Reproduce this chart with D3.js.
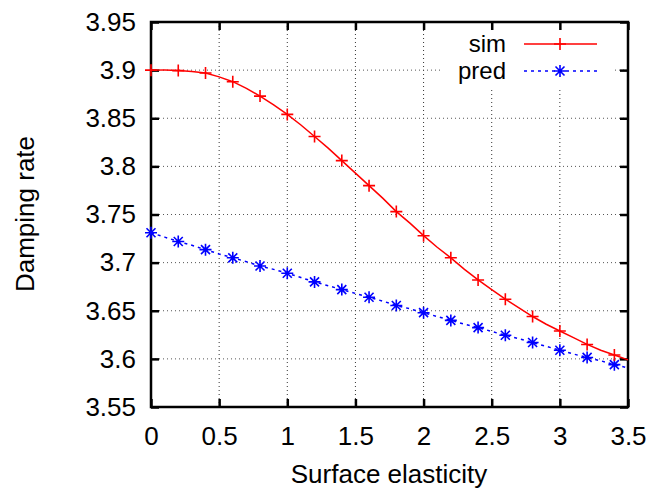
<!DOCTYPE html>
<html>
<head>
<meta charset="utf-8">
<script src="https://cdn.jsdelivr.net/npm/d3@7"></script>
<style>
  html, body { margin: 0; padding: 0; background: #fff; }
  svg { display: block; font-family: "Liberation Sans", Arial, Helvetica, sans-serif; }
</style>
</head>
<body>
<svg id="chart" width="654" height="491"></svg>
<script>
// Surface elasticity samples (step 0.1); markers are drawn on every other sample
const elasticity = [0, 0.1, 0.2, 0.3, 0.4, 0.5, 0.6, 0.7, 0.8, 0.9, 1.0, 1.1, 1.2, 1.3, 1.4, 1.5, 1.6, 1.7,
  1.8, 1.9, 2.0, 2.1, 2.2, 2.3, 2.4, 2.5, 2.6, 2.7, 2.8, 2.9, 3.0, 3.1, 3.2, 3.3, 3.4, 3.5];

// Damping rate from simulation
const simRate = [3.9000, 3.9001, 3.8995, 3.8985, 3.8970, 3.8930, 3.8880, 3.8810, 3.8730, 3.8640,
  3.8540, 3.8430, 3.8310, 3.8190, 3.8060, 3.7930, 3.7800, 3.7670, 3.7530, 3.7410,
  3.7280, 3.7160, 3.7050, 3.6930, 3.6820, 3.6720, 3.6620, 3.6530, 3.6440, 3.6360,
  3.6290, 3.6220, 3.6150, 3.6090, 3.6040, 3.5990];

// Damping rate from prediction
const predRate = [3.7310, 3.7265, 3.7220, 3.7180, 3.7135, 3.7090, 3.7050, 3.7010, 3.6965, 3.6930,
  3.6890, 3.6845, 3.6800, 3.6760, 3.6720, 3.6680, 3.6640, 3.6600, 3.6555, 3.6520,
  3.6480, 3.6440, 3.6400, 3.6360, 3.6325, 3.6285, 3.6245, 3.6210, 3.6170, 3.6130,
  3.6090, 3.6050, 3.6015, 3.5980, 3.5940, 3.5905];

const xTicks = [0, 0.5, 1, 1.5, 2, 2.5, 3, 3.5];
const yTicks = [3.55, 3.6, 3.65, 3.7, 3.75, 3.8, 3.85, 3.9, 3.95];
const seriesNames = ["sim", "pred"];

const W = 654, H = 491;
const margin = { left: 151, right: 26, top: 22, bottom: 84 };
const x0 = margin.left, x1 = W - margin.right;
const y0 = H - margin.bottom, y1 = margin.top;

const x = d3.scaleLinear().domain([0, 3.5]).range([x0, x1]);
const y = d3.scaleLinear().domain([3.55, 3.95]).range([y0, y1]);

const svg = d3.select("#chart");
const fontSize = 26;
const keyFontSize = 24;

// Grid (dotted)
const grid = svg.append("g");
grid.selectAll("line.gx").data(xTicks.filter(t => t > 0 && t < 3.5)).join("line")
  .attr("x1", d => x(d)).attr("x2", d => x(d)).attr("y1", y0).attr("y2", y1)
  .attr("stroke", "#333").attr("stroke-width", 1).attr("stroke-dasharray", "1,3");
grid.selectAll("line.gy").data(yTicks.filter(t => t > 3.55 && t < 3.95)).join("line")
  .attr("x1", x0).attr("x2", x1).attr("y1", d => y(d)).attr("y2", d => y(d))
  .attr("stroke", "#555").attr("stroke-width", 1).attr("stroke-dasharray", "1,3");

// Opaque key background
svg.append("rect").attr("x", 443).attr("y", y1 + 1).attr("width", 170).attr("height", 64)
  .attr("fill", "#fff");

// Axes with inward ticks on all four sides
const tickLen = 8;
const fmt = d => String(+d.toFixed(2));
svg.append("g").attr("transform", `translate(0,${y0})`)
  .call(d3.axisBottom(x).tickValues(xTicks).tickSizeInner(-tickLen).tickSizeOuter(0).tickPadding(20).tickFormat(fmt));
svg.append("g").attr("transform", `translate(0,${y1})`)
  .call(d3.axisTop(x).tickValues(xTicks).tickSizeInner(-tickLen).tickSizeOuter(0).tickFormat(""));
svg.append("g").attr("transform", `translate(${x0},0)`)
  .call(d3.axisLeft(y).tickValues(yTicks).tickSizeInner(-tickLen).tickSizeOuter(0).tickPadding(15).tickFormat(fmt));
svg.append("g").attr("transform", `translate(${x1},0)`)
  .call(d3.axisRight(y).tickValues(yTicks).tickSizeInner(-tickLen).tickSizeOuter(0).tickFormat(""));

svg.selectAll(".domain").remove();
svg.selectAll(".tick line").attr("stroke", "#000").attr("stroke-width", 2.5);
svg.selectAll(".tick text").attr("font-size", fontSize).attr("fill", "#000")
  .attr("font-family", "'Liberation Sans', Arial, sans-serif");

// Frame
svg.append("rect").attr("x", x0).attr("y", y1).attr("width", x1 - x0).attr("height", y0 - y1)
  .attr("fill", "none").attr("stroke", "#000").attr("stroke-width", 2.5);

// Axis titles
svg.append("text").attr("x", 389).attr("y", 483).attr("text-anchor", "middle")
  .attr("font-size", fontSize).text("Surface elasticity");
svg.append("text").attr("transform", `translate(34,214) rotate(-90)`)
  .attr("text-anchor", "middle").attr("font-size", fontSize).text("Damping rate");

// Marker path generators
function plusPath(cx, cy, r) {
  return `M${cx - r},${cy}H${cx + r}M${cx},${cy - r}V${cy + r}`;
}
function starPath(cx, cy, r) {
  const d = r * 0.75;
  return plusPath(cx, cy, r) + `M${cx - d},${cy - d}L${cx + d},${cy + d}M${cx - d},${cy + d}L${cx + d},${cy - d}`;
}

const line = d3.line().x(d => x(d[0])).y(d => y(d[1]));
const simPts = elasticity.map((e, i) => [e, simRate[i]]);
const predPts = elasticity.map((e, i) => [e, predRate[i]]);
const marked = (pts) => pts.filter((p, i) => i % 2 === 0);

// Prediction series
svg.append("path").attr("d", line(predPts)).attr("fill", "none")
  .attr("stroke", "#0000ff").attr("stroke-width", 1.5).attr("stroke-dasharray", "3,4");
svg.append("g").selectAll("path").data(marked(predPts)).join("path")
  .attr("d", d => starPath(x(d[0]), y(d[1]), 6))
  .attr("stroke", "#0000ff").attr("stroke-width", 1.6).attr("fill", "none");

// Simulation series
svg.append("path").attr("d", line(simPts)).attr("fill", "none")
  .attr("stroke", "#ff0000").attr("stroke-width", 1.5);
svg.append("g").selectAll("path").data(marked(simPts)).join("path")
  .attr("d", d => plusPath(x(d[0]), y(d[1]), 6))
  .attr("stroke", "#ff0000").attr("stroke-width", 1.6).attr("fill", "none");

// Key
const keyRows = [
  { name: seriesNames[0], color: "#ff0000", dash: null, marker: plusPath, yy: 44 },
  { name: seriesNames[1], color: "#0000ff", dash: "3,4", marker: starPath, yy: 71 }
];
const key = svg.append("g");
keyRows.forEach(r => {
  key.append("text").attr("x", 506).attr("y", r.yy + 8).attr("text-anchor", "end")
    .attr("font-size", keyFontSize).text(r.name);
  key.append("line").attr("x1", 524).attr("x2", 597).attr("y1", r.yy).attr("y2", r.yy)
    .attr("stroke", r.color).attr("stroke-width", 1.5).attr("stroke-dasharray", r.dash);
  key.append("path").attr("d", r.marker(560, r.yy, 6)).attr("stroke", r.color)
    .attr("stroke-width", 1.6).attr("fill", "none");
});
</script>
</body>
</html>
